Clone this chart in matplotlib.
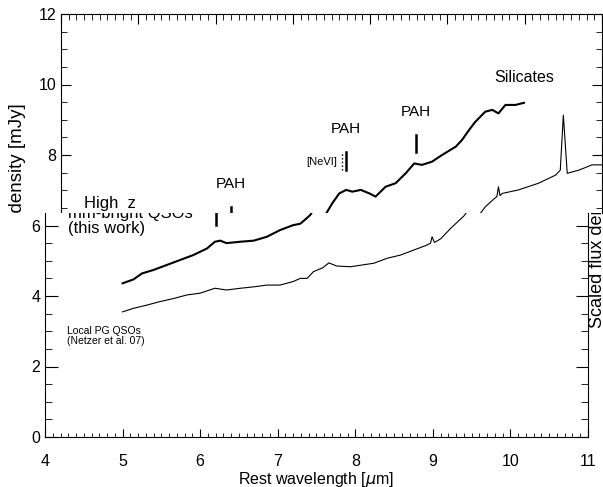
import matplotlib as mpl
import matplotlib.pyplot as plt
from matplotlib.transforms import Bbox, TransformedBbox

mpl.rcParams['font.family'] = ['Liberation Sans', 'DejaVu Sans']
mpl.rcParams['mathtext.fontset'] = 'dejavusans'

# high-z mm-bright QSO stack (thick line)
wl_hz = [5.00, 5.14, 5.25, 5.40, 5.57, 5.74, 5.91, 6.09, 6.19, 6.26, 6.34, 6.52,
         6.69, 6.86, 7.03, 7.20, 7.29, 7.35, 7.42, 7.51, 7.60, 7.69, 7.77, 7.88,
         7.99, 8.07, 8.20, 8.33, 8.46, 8.57, 8.67, 8.80, 8.93, 9.11, 9.19, 9.28,
         9.36, 9.49, 9.58, 9.66, 9.75, 9.88, 9.99]
fl_hz = [4.36, 4.47, 4.64, 4.74, 4.88, 5.02, 5.16, 5.35, 5.54, 5.57, 5.50, 5.54,
         5.57, 5.68, 5.87, 6.01, 6.05, 6.16, 6.30, 6.63, 6.91, 7.01, 6.96, 7.01,
         6.91, 6.82, 7.10, 7.20, 7.48, 7.76, 7.72, 7.81, 8.00, 8.24, 8.43, 8.71,
         8.94, 9.23, 9.28, 9.18, 9.42, 9.42, 9.48]

# local PG QSOs, Netzer et al. 07 (thin line)
wl_pg = [5.00, 5.14, 5.31, 5.48, 5.66, 5.83, 6.00, 6.19, 6.34, 6.52, 6.69, 6.86,
         7.03, 7.20, 7.29, 7.38, 7.46, 7.58, 7.66, 7.76, 7.94, 8.09, 8.24, 8.41,
         8.58, 8.75, 8.93, 8.97, 8.99, 9.02, 9.10, 9.23, 9.40, 9.49, 9.60, 9.64,
         9.66, 9.68, 9.71, 9.92, 10.18, 10.40, 10.46, 10.50, 10.55, 10.70, 10.87, 11.0]
fl_pg = [3.55, 3.65, 3.74, 3.84, 3.93, 4.03, 4.08, 4.22, 4.17, 4.22, 4.26, 4.31,
         4.31, 4.41, 4.50, 4.50, 4.69, 4.80, 4.94, 4.85, 4.83, 4.88, 4.93, 5.07,
         5.16, 5.30, 5.45, 5.50, 5.68, 5.52, 5.62, 5.92, 6.27, 6.53, 6.75, 6.82,
         7.10, 6.85, 6.91, 7.01, 7.20, 7.43, 7.57, 9.13, 7.48, 7.57, 7.72, 7.72]

# feature markers
pah_wl = [6.2, 7.69, 8.59]
pah_lo = [6.02, 7.57, 8.09]
pah_hi = [6.52, 8.09, 8.57]
pah_lab_y = [7.18, 8.74, 9.22]
nevi_wl = 7.64

W, H = 603, 487
seam = 213          # pixel row where the two panels meet
y0, ppu = 437, 35.25
ysplit = (y0 - seam) / ppu

fig = plt.figure(figsize=(W / 100, H / 100), dpi=100)

ax_up = fig.add_axes([61 / W, (H - seam) / H, 541 / W, (seam - 14) / H])
ax_lo = fig.add_axes([45 / W, (H - y0) / H, 543 / W, (y0 - seam) / H])

for ax in (ax_up, ax_lo):
    ax.plot(wl_hz, fl_hz, color='black', lw=1.5)
    ax.plot(wl_pg, fl_pg, color='black', lw=0.8)
    ax.set_xlim(4, 11)
    ax.plot([pah_wl[0]] * 2, [pah_lo[0], pah_hi[0]], color='black', lw=1.8)
    ax.tick_params(which='both', direction='in', labelsize=11.5)

ax_up.set_ylim(ysplit, 12)
ax_lo.set_ylim(0, ysplit)

# upper panel: markers and labels
for w, lo, hi in zip(pah_wl[1:], pah_lo[1:], pah_hi[1:]):
    ax_up.plot([w, w], [lo, hi], color='black', lw=1.8)
ax_up.plot([nevi_wl, nevi_wl], [pah_lo[1], pah_hi[1]], color='black', lw=1.0, ls=':')
for w, y in zip(pah_wl, pah_lab_y):
    ax_up.text(w, y, 'PAH', fontsize=11, ha='center', va='center')
ax_up.text(7.37, 7.80, '[NeVI]', fontsize=8, ha='center', va='center')
ax_up.text(9.99, 10.21, 'Silicates', fontsize=11.5, ha='center', va='center')
ax_up.text(4.30, 6.50, 'High  z', fontsize=12, va='baseline', ha='left')

ax_up.spines['bottom'].set_visible(False)
ax_up.set_yticks([8, 10, 12])
ax_up.set_yticks([6.5, 7, 7.5, 8.5, 9, 9.5, 10.5, 11, 11.5], minor=True)
ax_up.set_xticks(range(4, 12))
ax_up.set_xticks([4 + 0.1 * i for i in range(71)], minor=True)
ax_up.tick_params(axis='x', which='both', bottom=False, top=True, labelbottom=False)
ax_up.tick_params(axis='y', which='both', left=True, right=True)
ax_up.tick_params(which='major', length=7)
ax_up.tick_params(which='minor', length=4)

# lower panel
ax_lo.text(4.30, 6.21, 'mm-bright QSOs', fontsize=12, va='baseline', ha='left',
           clip_on=True)
ax_lo.text(4.30, 5.79, '(this work)', fontsize=12, va='baseline', ha='left')
ax_lo.text(4.28, 3.15, 'Local PG QSOs\n(Netzer et al. 07)', fontsize=7.5,
           va='top', ha='left', linespacing=1.0)
ax_lo.spines['top'].set_visible(False)
ax_lo.set_yticks([0, 2, 4, 6])
ax_lo.set_yticks([0.5, 1, 1.5, 2.5, 3, 3.5, 4.5, 5, 5.5], minor=True)
ax_lo.set_xticks(range(4, 12))
ax_lo.set_xticks([4 + 0.1 * i for i in range(71)], minor=True)
ax_lo.tick_params(axis='y', which='both', left=True, right=True)
ax_lo.tick_params(which='major', length=9)
ax_lo.tick_params(which='minor', length=5)
ax_lo.tick_params(axis='x', which='major', length=6, pad=12)
ax_lo.tick_params(axis='x', which='minor', length=3)
ax_lo.set_xlabel(r'Rest wavelength [$\mu$m]', fontsize=11.5, labelpad=1)

# axis titles, cut at the seam like the original composite
top_clip = TransformedBbox(Bbox([[0, (H - seam) / H], [1, 1]]), fig.transFigure)
bot_clip = TransformedBbox(Bbox([[0, 0], [1, (H - seam) / H]]), fig.transFigure)
t1 = fig.text(18 / W, (H - 103) / H, 'Flux density [mJy]', rotation=90,
              fontsize=13.5, ha='center', va='top')
t1.set_clip_box(top_clip)
t1.set_clip_on(True)
t2 = fig.text(598 / W, (H - 328) / H, 'Scaled flux density [mJy]', rotation=90,
              fontsize=13, ha='center', va='bottom')
t2.set_clip_box(bot_clip)
t2.set_clip_on(True)

plt.savefig('out.png', dpi=100)
